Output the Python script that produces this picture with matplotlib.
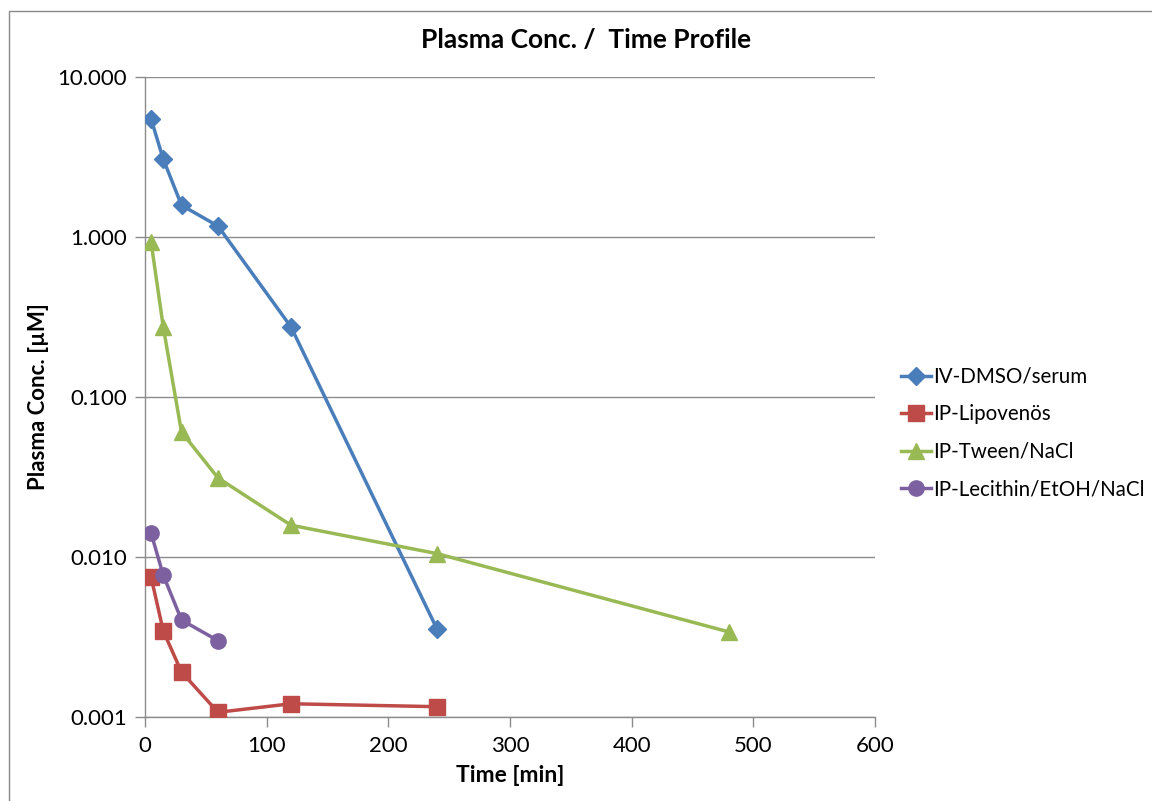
import matplotlib
matplotlib.use("Agg")
import matplotlib.pyplot as plt
from matplotlib.patches import Rectangle
from matplotlib.ticker import FixedLocator, FixedFormatter, NullLocator

plt.rcParams['font.family'] = ['Lato', 'DejaVu Sans']

time_iv = [5, 15, 30, 60, 120, 240]
iv_dmso = [5.46, 3.07, 1.58, 1.17, 0.274, 0.00355]

time_lipo = [5, 15, 30, 60, 120, 240]
ip_lipo = [0.0075, 0.00345, 0.00191, 0.00107, 0.00121, 0.00116]

time_tween = [5, 15, 30, 60, 120, 240, 480]
ip_tween = [0.93, 0.274, 0.0604, 0.0312, 0.0158, 0.0105, 0.0034]

time_lec = [5, 15, 30, 60]
ip_lec = [0.0141, 0.0077, 0.00404, 0.0030]

series_names = ["IV-DMSO/serum", "IP-Lipovenös", "IP-Tween/NaCl", "IP-Lecithin/EtOH/NaCl"]
y_ticks = [0.001, 0.01, 0.1, 1, 10]
y_tick_labels = ["0.001", "0.010", "0.100", "1.000", "10.000"]
x_ticks = [0, 100, 200, 300, 400, 500, 600]

fig = plt.figure(figsize=(11.52, 8.01), dpi=100)
fig.patches.append(Rectangle((9/1152, -0.1), 1.2, 1 - 11/801 + 0.1, transform=fig.transFigure,
                             fill=False, edgecolor='#898989', linewidth=1.0))
ax = fig.add_axes([145/1152, 1 - 717/801, (875-145)/1152, (717-77)/801])

ax.plot(time_iv, iv_dmso, color='#4A7EBB', marker='D', markersize=9, linewidth=2.5, label=series_names[0], zorder=3)
ax.plot(time_lipo, ip_lipo, color='#BE4B48', marker='s', markersize=11, linewidth=2.5, label=series_names[1], zorder=3)
ax.plot(time_tween, ip_tween, color='#98B954', marker='^', markersize=12, linewidth=2.5, label=series_names[2], zorder=3)
ax.plot(time_lec, ip_lec, color='#7D60A0', marker='o', markersize=11, linewidth=2.5, label=series_names[3], zorder=3)

ax.set_yscale('log')
ax.set_ylim(0.001, 10)
ax.set_xlim(0, 600)
ax.yaxis.set_major_locator(FixedLocator(y_ticks))
ax.yaxis.set_major_formatter(FixedFormatter(y_tick_labels))
ax.yaxis.set_minor_locator(NullLocator())
ax.set_xticks(x_ticks)
ax.grid(axis='y', color='#8C8C8C', linewidth=1.0)
ax.set_axisbelow(True)
for s in ['top', 'right']:
    ax.spines[s].set_visible(False)
for s in ['left', 'bottom']:
    ax.spines[s].set_color('#8C8C8C')
    ax.spines[s].set_linewidth(1.0)
ax.tick_params(axis='both', colors='#8C8C8C', labelcolor='black', labelsize=16, length=7, width=1, direction='out')
ax.tick_params(axis='x', pad=7)
ax.tick_params(axis='y', pad=6)

fig.text(586/1152, 1 - 40/801, "Plasma Conc. /  Time Profile", fontsize=19, fontweight='bold',
         ha='center', va='center')
ax.set_xlabel("Time [min]", fontsize=16.5, fontweight='bold', labelpad=6)
ax.set_ylabel("Plasma Conc. [µM]", fontsize=16, fontweight='bold', labelpad=6)

fig.legend(loc='center left', bbox_to_anchor=(893/1152, 1 - 433/801), frameon=False,
           fontsize=14.8, handlelength=1.45, handletextpad=0.1, labelspacing=0.85, borderaxespad=0)

fig.savefig("out.png", dpi=100)
